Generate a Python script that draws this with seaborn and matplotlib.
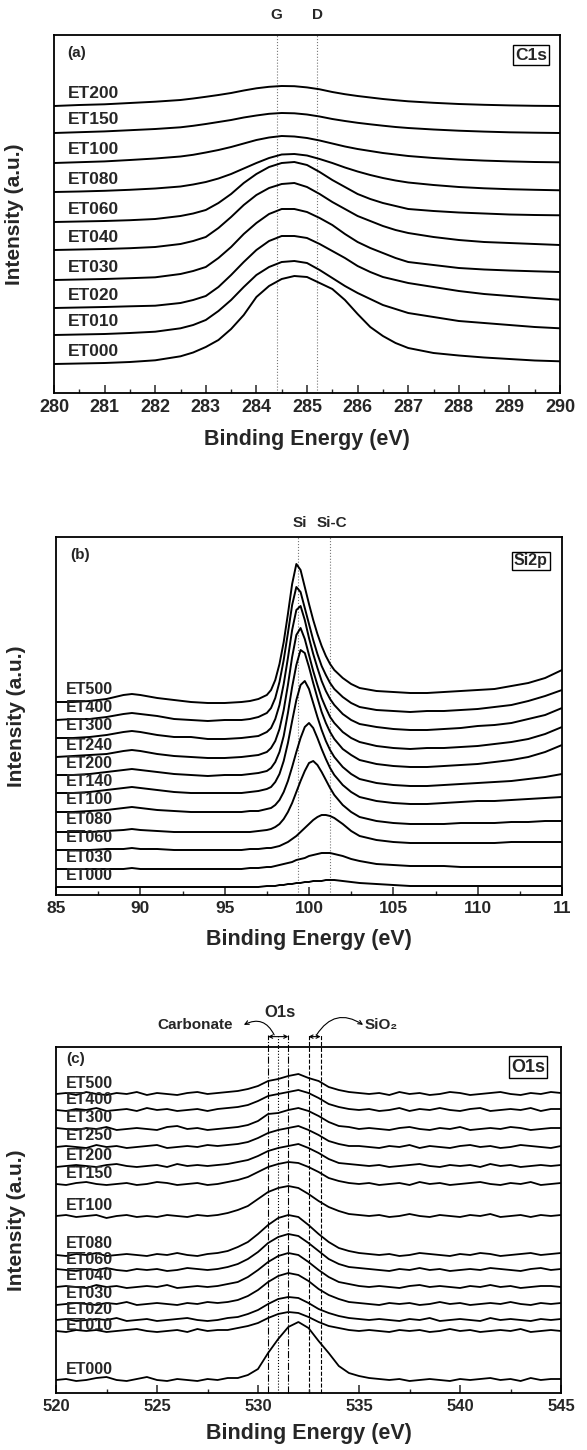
import numpy as np
import pandas as pd
import matplotlib
matplotlib.use("Agg")
import matplotlib.pyplot as plt
import seaborn as sns
from matplotlib import font_manager as fm
from matplotlib.ticker import MultipleLocator, FixedLocator, FixedFormatter
from matplotlib.transforms import blended_transform_factory

# ---------------- Panel (a): C1s ----------------
c1s_energy = [280, 280.5, 281, 281.5, 282, 282.5, 282.75, 283, 283.25, 283.5, 283.75, 284, 284.25,
              284.5, 284.75, 285, 285.25, 285.5, 285.75, 286, 286.25, 286.5, 286.75, 287, 287.5,
              288, 288.5, 289, 289.5, 290]
c1s_names = ["ET000", "ET010", "ET020", "ET030", "ET040", "ET060", "ET080", "ET100", "ET150", "ET200"]
c1s_offsets = [29, 58, 85, 113, 143, 171, 201, 230, 260, 287]
c1s_ET000 = [0, 0.5, 1, 2, 3.7, 7.7, 11.5, 17, 24, 35, 49, 67, 78, 85, 88, 87, 81, 75, 64, 50, 37, 28, 21, 16, 11, 8.5, 6.5, 5, 3.5, 2.7]
c1s_ET010 = [0, 0.5, 1, 2, 3.3, 6.7, 10, 15, 24, 35, 48, 60, 68, 73, 74, 72, 65, 57, 49, 42, 36, 30, 26, 22, 18, 14, 12, 10, 8, 6.7]
c1s_ET020 = [0, 0.5, 1, 1.7, 2.3, 5, 8, 12, 21, 33, 46, 58, 67, 72, 72, 70, 64, 57, 50, 42, 36, 31, 28, 25, 21, 17, 14, 12, 10, 8.3]
c1s_ET030 = [0, 0.5, 1, 1.8, 2.7, 6, 9, 13, 22, 33, 46, 57, 66, 71, 71, 68, 62, 55, 46, 38, 32, 27, 22, 18, 15, 12, 10.5, 9.5, 8.7, 8]
c1s_ET040 = [0, 0.5, 1, 1.8, 3, 6, 9, 13, 22, 33, 45, 55, 62, 66, 67, 63, 56, 48, 41, 34, 29, 24, 20, 17, 13, 10, 8, 7, 6, 5]
c1s_ET060 = [0, 0.5, 1, 1.8, 3, 6, 8.5, 12, 19, 28, 39, 48, 55, 59, 60, 57, 50, 42, 35, 28, 23, 19, 16, 13, 11, 9.5, 8.5, 7.5, 7, 6.7]
c1s_ET080 = [0, 0.5, 1.2, 2.2, 3.5, 5.5, 7.5, 10, 13.5, 18, 23.5, 29, 34, 37.5, 38, 36.5, 33, 29, 24.5, 20.5, 17, 14, 11.5, 9.5, 7, 5, 3.7, 2.8, 2.2, 1.7]
c1s_ET100 = [0, 0.8, 1.6, 3, 4.5, 6.5, 8.2, 10.5, 13, 16, 19.5, 23, 25.5, 27, 26.5, 25, 22.5, 19.5, 16.5, 14, 12, 10, 8.5, 7, 5, 3.5, 2.4, 1.6, 1, 0.7]
c1s_ET150 = [0, 0.8, 1.6, 2.8, 4, 5.7, 7.2, 9, 11, 13, 15.5, 17.5, 19.2, 20, 19.7, 18.5, 16.5, 14, 12, 10.2, 8.7, 7.3, 6, 5, 3.5, 2.3, 1.4, 0.7, 0.3, 0]
c1s_ET200 = [0, 1, 1.7, 3, 4.3, 6, 7.5, 9.2, 11, 13, 15.5, 17.7, 19.2, 20, 19.8, 18.6, 16.7, 14, 11.8, 10, 8.5, 7, 5.8, 4.7, 3.2, 2, 1.2, 0.6, 0.2, 0]
c1s_series = [c1s_ET000, c1s_ET010, c1s_ET020, c1s_ET030, c1s_ET040, c1s_ET060, c1s_ET080, c1s_ET100, c1s_ET150, c1s_ET200]
c1s_ticks = [280, 281, 282, 283, 284, 285, 286, 287, 288, 289, 290]
c1s_ticklabels = ["280", "281", "282", "283", "284", "285", "286", "287", "288", "289", "290"]
c1s_markers = [284.4, 285.2]
c1s_marker_labels = ["G", "D"]

# ---------------- Panel (b): Si2p ----------------
si_energy = [85, 86, 87, 88, 89, 89.5, 90, 91, 92, 93, 94, 95, 96, 96.5, 97, 97.5, 97.75, 98, 98.25, 98.5,
             98.75, 99, 99.25, 99.5, 99.75, 100, 100.25, 100.5, 100.75, 101, 101.25, 101.5, 102, 102.5,
             103, 104, 105, 106, 107, 108, 109, 110, 111, 112, 113, 114, 115]
si_names = ["ET000", "ET030", "ET060", "ET080", "ET100", "ET140", "ET200", "ET240", "ET300", "ET400", "ET500"]
si_offsets = [8, 26, 45, 63, 83, 102, 120, 138, 157, 175, 193]
si_ET500 = [0, 0, 1, 3, 7, 8, 7, 4, 2, 0, -1, -1, 0, 1, 3, 7, 12, 22, 38, 60, 88, 118, 138, 132, 115, 98, 82, 68, 56, 46, 38, 32, 24, 18, 14, 11, 10, 9, 9, 10, 11, 12, 13, 16, 19, 24, 32]
si_ET400 = [0, 1, 1, 3, 6, 7, 6, 4, 1, 0, -1, 0, 0, 1, 3, 7, 12, 22, 38, 60, 87, 115, 133, 128, 112, 96, 80, 66, 54, 45, 37, 31, 23, 17, 13, 10, 9, 8, 9, 9, 10, 11, 13, 15, 19, 24, 30]
si_ET300 = [0, 0, 1, 3, 6, 7, 6, 3, 1, 1, -1, -1, 0, 1, 2, 6, 10, 19, 33, 54, 80, 108, 128, 132, 118, 100, 84, 70, 57, 47, 39, 33, 24, 18, 14, 11, 9, 8, 8, 9, 10, 12, 13, 15, 19, 23, 30]
si_ET240 = [0, 1, 2, 3, 6, 7, 6, 3, 1, 0, -1, -1, 0, 1, 2, 5, 9, 16, 28, 47, 72, 100, 122, 129, 118, 102, 86, 72, 59, 49, 40, 34, 25, 19, 15, 11, 9, 8, 9, 9, 10, 11, 13, 15, 18, 23, 30]
si_ET200 = [0, 0, 1, 3, 5, 6, 5, 3, 1, 0, -1, 0, 0, 1, 2, 4, 7, 13, 23, 39, 62, 88, 110, 125, 122, 108, 92, 77, 63, 52, 43, 36, 26, 20, 15, 11, 9, 8, 8, 9, 10, 11, 13, 15, 18, 23, 30]
si_ET140 = [0, 0, 1, 3, 5, 6, 5, 3, 1, 0, 0, 0, 0, 1, 2, 4, 6, 11, 19, 32, 50, 72, 93, 108, 112, 104, 90, 76, 63, 52, 43, 36, 26, 19, 14, 10, 8, 7, 7, 8, 9, 10, 11, 12, 14, 16, 19]
si_ET100 = [0, 0, 1, 2, 4, 5, 4, 2, 1, 0, 0, 0, 0, 1, 1, 3, 4, 7, 12, 20, 31, 45, 60, 74, 85, 89, 84, 74, 63, 53, 44, 37, 27, 20, 15, 11, 9, 8, 8, 9, 10, 11, 11, 12, 13, 14, 15]
si_ET080 = [0, 0, 0, 1, 2, 3, 2, 1, 0, 0, 0, 0, 0, 0, 1, 2, 3, 5, 8, 13, 20, 29, 40, 51, 61, 69, 71, 67, 60, 52, 44, 37, 27, 20, 15, 11, 9, 8, 8, 8, 9, 9, 9, 10, 10, 11, 11]
si_ET060 = [0, 0, 0, 1, 1, 2, 1, 1, 0, 0, 0, 0, 0, 1, 1, 2, 2, 3, 4, 6, 8, 11, 14, 18, 22, 26, 30, 33, 35, 35, 34, 32, 26, 19, 14, 10, 8, 7, 7, 7, 7, 7, 7, 8, 8, 8, 8]
si_ET030 = [0, 0, 0, 0, 0, 1, 0, 0, 0, 0, 0, 0, 0, 1, 1, 2, 2, 3, 4, 5, 6, 7, 9, 10, 11, 13, 14, 15, 16, 16, 16, 15, 13, 10, 8, 5, 4, 3, 3, 3, 2, 2, 2, 2, 2, 2, 2]
si_ET000 = [0, 0, 0, 0, 0, 0, 0, 0, 0, 0, 0, 0, 0, 0, 0, 1, 1, 1, 2, 2, 3, 3, 4, 4, 5, 5, 6, 6, 6, 7, 7, 7, 6, 5, 4, 3, 2, 1, 1, 1, 1, 1, 1, 1, 1, 1, 1]
si_series = [si_ET000, si_ET030, si_ET060, si_ET080, si_ET100, si_ET140, si_ET200, si_ET240, si_ET300, si_ET400, si_ET500]
si_ticks = [85, 90, 95, 100, 105, 110, 115]
si_ticklabels = ["85", "90", "95", "100", "105", "110", "11"]
si_markers = [99.35, 101.25]
si_marker_labels = ["Si", "Si-C"]

# ---------------- Panel (c): O1s ----------------
o_energy = [520 + 0.5 * i for i in range(51)]
o_names = ["ET000", "ET010", "ET020", "ET030", "ET040", "ET060", "ET080", "ET100", "ET150", "ET200",
           "ET250", "ET300", "ET400", "ET500"]
o_offsets = [13, 62, 73, 89, 106, 123, 138, 177, 209, 227, 246, 264, 283, 299]
o_ET500 = [0, 1, -1, 2, 0, -1, 1, 0, 2, -1, 1, 0, -1, 1, 2, 0, 1, 2, 3,
           5, 8, 13, 15, 18, 20, 16, 13, 7, 4, 2, 1,
           0, 1, -1, 2, 0, 1, -1, 0, 2, 1, -1, 0, 1, 2, 0, -1, 1, 0, 2, 1]
o_ET400 = [0, -1, 1, 0, 2, -1, 0, 1, -1, 2, 0, 1, -1, 0, 1, -1, 1, 2, 3,
           5, 9, 14, 16, 18, 20, 17, 12, 6, 3, 1, 0,
           1, -1, 0, 2, -1, 1, 0, 2, 0, -1, 1, 2, -1, 0, 1, 0, 2, -1, 1, 1]
o_ET300 = [1, 0, -1, 1, 0, 2, -1, 0, 1, 0, -1, 2, 3, 0, 1, -1, 0, 1, 2,
           4, 8, 15, 16, 19, 21, 18, 13, 7, 3, 2, 0,
           1, 0, -1, 1, 2, 0, -1, 1, 0, 2, -1, 0, 1, 0, 2, 1, -1, 0, 1, 1]
o_ET250 = [0, 1, 0, -1, 2, 0, 1, -1, 0, 1, 2, -1, 0, 1, 0, 2, 1, 2, 3,
           5, 9, 14, 17, 19, 21, 17, 12, 6, 3, 1, 1,
           0, -1, 1, 0, 2, -1, 1, 0, -1, 1, 2, 0, 1, -1, 0, 2, 1, 0, -1, 1]
o_ET200 = [-1, 0, 1, 0, -1, 1, 2, 0, -1, 0, 1, -1, 2, 0, 1, 0, 1, 2, 4,
           6, 10, 15, 18, 20, 22, 18, 13, 7, 3, 2, 1,
           0, 1, -1, 0, 1, 2, 0, -1, 1, 0, 1, -1, 2, 0, 1, -1, 0, 1, 0, 1]
o_ET150 = [0, -1, 1, 2, 0, -1, 0, 1, -1, 0, 2, 1, -1, 0, 1, -1, 0, 2, 4,
           7, 12, 17, 20, 22, 21, 17, 12, 6, 3, 1, 0,
           1, -1, 0, 1, -1, 2, 0, 1, -1, 0, 1, 2, 0, -1, 1, 0, 2, -1, 0, 1]
o_ET100 = [0, 1, -1, 0, 1, -2, 0, 1, -1, 0, -1, 1, 0, -1, 1, 0, 1, 3, 6,
           10, 17, 24, 28, 30, 28, 22, 15, 9, 5, 2, 1,
           0, 1, -1, 0, 2, 0, -1, 1, 0, -1, 1, 0, 2, -1, 0, 1, -1, 1, 0, 1]
o_ET080 = [0, -1, 1, 0, 2, -1, 0, 1, 0, -1, 1, 0, 2, 0, -1, 1, 2, 4, 8,
           13, 21, 30, 37, 40, 38, 30, 21, 13, 7, 4, 2,
           1, 0, 1, -1, 0, 2, 1, 0, -1, 1, 0, 2, 1, -1, 0, 1, 2, 0, 1, 2]
o_ET060 = [1, 0, -1, 1, 0, 2, 0, -1, 1, 0, 1, -1, 0, 2, 1, 0, 1, 3, 6,
           11, 18, 27, 33, 36, 34, 27, 19, 11, 6, 3, 2,
           1, 0, -1, 1, 0, 2, 0, 1, -1, 0, 1, 0, 2, 1, 0, -1, 1, 2, 0, 1]
o_ET040 = [0, 1, 0, -1, 2, 0, 1, -1, 0, 1, 0, 2, -1, 0, 1, 0, 1, 3, 5,
           10, 17, 25, 31, 34, 32, 25, 17, 10, 5, 3, 1,
           0, 1, 0, -1, 1, 2, 0, 1, 0, -1, 1, 0, 2, 0, 1, -1, 0, 1, 1, 0]
o_ET030 = [-1, 0, 1, 0, -1, 1, 0, 2, -1, 0, 1, 0, -1, 1, 0, 2, 1, 2, 4,
           8, 14, 22, 28, 31, 29, 23, 15, 9, 5, 2, 1,
           0, -1, 1, 0, 1, -1, 0, 2, 0, 1, -1, 0, 1, 0, 2, 0, -1, 1, 0, 1]
o_ET020 = [0, 1, -1, 0, 1, 0, 2, -1, 0, 1, -1, 0, 1, 2, 0, -1, 0, 2, 3,
           6, 10, 16, 21, 23, 22, 17, 11, 7, 4, 2, 1,
           0, 1, 0, -1, 1, 0, 2, -1, 0, 1, 0, -1, 2, 0, 1, 0, -1, 1, 0, 1]
o_ET010 = [0, -1, 1, 0, 1, -1, 0, 1, 2, 0, -1, 0, 1, -1, 2, 0, 1, 1, 3,
           5, 8, 13, 17, 19, 18, 14, 9, 5, 3, 1, 0,
           1, 0, -1, 1, 0, 1, -1, 0, 2, 0, 1, -1, 0, 1, 0, 2, -1, 0, 1, 0]
o_ET000 = [0, 1, -1, 0, 2, 3, 0, -1, 1, 3, 0, -1, 1, 0, -1, 1, 0, 2, 2,
           5, 11, 27, 41, 53, 58, 52, 39, 27, 14, 7, 4,
           2, 1, 0, 1, -1, 0, 1, 0, -1, 1, 0, 1, 2, 0, 1, -1, 2, 0, 1, 1]
o_series = [o_ET000, o_ET010, o_ET020, o_ET030, o_ET040, o_ET060, o_ET080, o_ET100, o_ET150, o_ET200,
            o_ET250, o_ET300, o_ET400, o_ET500]
o_ticks = [520, 525, 530, 535, 540, 545]
o_ticklabels = ["520", "525", "530", "535", "540", "545"]
o_lines = [530.5, 531.0, 531.5, 532.5, 533.1]
o_line_styles = ["-.", ":", "-.", "--", "--"]

# ---------------- Style ----------------
sns.set_theme(style="ticks")
names = {f.name for f in fm.fontManager.ttflist}
MAIN = "Liberation Sans" if "Liberation Sans" in names else "DejaVu Sans"
plt.rcParams["font.family"] = [MAIN, "DejaVu Sans"]
plt.rcParams["font.weight"] = "bold"
plt.rcParams["axes.linewidth"] = 1.3

fig = plt.figure(figsize=(5.87, 14.5), dpi=100)
W, H = 587.0, 1450.0


def make_ax(left, right, top, bottom):
    return fig.add_axes([left / W, 1 - bottom / H, (right - left) / W, (bottom - top) / H])


def draw(ax, energy, names_, offsets, series, lw=1.4):
    rows = []
    for n, off, s in zip(names_, offsets, series):
        for e, v in zip(energy, s):
            rows.append((n, e, off + v))
    df = pd.DataFrame(rows, columns=["sample", "energy", "intensity"])
    sns.lineplot(data=df, x="energy", y="intensity", units="sample", estimator=None,
                 color="black", lw=lw, ax=ax, legend=False, sort=False)


def style_axes(ax, xlim, ylim, ticks, ticklabels, minor, tick_fs, labelpad):
    ax.set_xlim(*xlim)
    ax.set_ylim(*ylim)
    ax.set_yticks([])
    ax.xaxis.set_major_locator(FixedLocator(ticks))
    ax.xaxis.set_major_formatter(FixedFormatter(ticklabels))
    ax.xaxis.set_minor_locator(MultipleLocator(minor))
    ax.tick_params(axis="x", which="major", direction="in", length=6, width=1.1,
                   labelsize=tick_fs, pad=4)
    ax.tick_params(axis="x", which="minor", direction="in", length=3, width=1.0)
    for lab in ax.get_xticklabels():
        lab.set_fontweight("bold")
    ax.set_xlabel("Binding Energy (eV)", fontsize=15.5, fontweight="bold", labelpad=labelpad)
    ax.set_ylabel("Intensity (a.u.)", fontsize=15, fontweight="bold")
    ax.yaxis.set_label_coords(-0.06, 0.5)
    for sp in ax.spines.values():
        sp.set_visible(True)
        sp.set_linewidth(1.3)
        sp.set_color("black")


# ---- (a)
axa = make_ax(54, 560, 35, 393)
for xv in c1s_markers:
    axa.axvline(xv, color="#777777", lw=0.8, ls=":", zorder=0)
draw(axa, c1s_energy, c1s_names, c1s_offsets, c1s_series)
style_axes(axa, (280, 290), (0, 358), c1s_ticks, c1s_ticklabels, 0.5, 13, 10)
for n, off in zip(c1s_names, c1s_offsets):
    axa.text(280.28, off + 13, n, fontsize=12.5, fontweight="bold", ha="left", va="center")
ta = blended_transform_factory(axa.transData, axa.transAxes)
for xv, lab in zip(c1s_markers, c1s_marker_labels):
    axa.text(xv, 1.056, lab, transform=ta, ha="center", va="center", fontsize=11, fontweight="bold")
axa.text(0.027, 0.95, "(a)", transform=axa.transAxes, fontsize=11, fontweight="bold", va="center")
axa.text(0.975, 0.944, "C1s", transform=axa.transAxes, fontsize=12.5, fontweight="bold",
         ha="right", va="center",
         bbox=dict(boxstyle="square,pad=0.12", fc="white", ec="black", lw=1))

# ---- (b)
axb = make_ax(56, 562, 537, 895)
for xv in si_markers:
    axb.axvline(xv, color="#777777", lw=0.8, ls=":", zorder=0)
draw(axb, si_energy, si_names, si_offsets, si_series)
style_axes(axb, (85, 115), (0, 358), si_ticks, si_ticklabels, 2.5, 12.5, 10)
for n, off in zip(si_names, si_offsets):
    axb.text(85.6, off + 12, n, fontsize=11.5, fontweight="bold", ha="left", va="center")
tb = blended_transform_factory(axb.transData, axb.transAxes)
axb.text(99.45, 1.039, "Si", transform=tb, ha="center", va="center", fontsize=11, fontweight="bold")
axb.text(101.35, 1.039, "Si-C", transform=tb, ha="center", va="center", fontsize=11, fontweight="bold")
axb.text(0.028, 0.95, "(b)", transform=axb.transAxes, fontsize=11, fontweight="bold", va="center")
axb.text(0.972, 0.933, "Si2p", transform=axb.transAxes, fontsize=11.5, fontweight="bold",
         ha="right", va="center",
         bbox=dict(boxstyle="square,pad=0.12", fc="white", ec="black", lw=1))

# ---- (c)
axc = make_ax(56, 561, 1047, 1393)
tc = blended_transform_factory(axc.transData, axc.transAxes)
for xv, ls in zip(o_lines, o_line_styles):
    axc.plot([xv, xv], [0, 1.035], transform=tc, color="black", lw=0.8, ls=ls, clip_on=False, zorder=0)
draw(axc, o_energy, o_names, o_offsets, o_series, lw=1.3)
style_axes(axc, (520, 545), (0, 346), o_ticks, o_ticklabels, 2.5, 12, 7)
label_nudge = {"ET010": -5, "ET020": -1}
for n, off in zip(o_names, o_offsets):
    axc.text(520.5, off + 11 + label_nudge.get(n, 0), n, fontsize=11.5, fontweight="bold",
             ha="left", va="center")
axc.text(0.02, 0.965, "(c)", transform=axc.transAxes, fontsize=11, fontweight="bold", va="center")
axc.text(0.968, 0.942, "O1s", transform=axc.transAxes, fontsize=13, fontweight="bold",
         ha="right", va="center",
         bbox=dict(boxstyle="square,pad=0.12", fc="white", ec="black", lw=1))
axc.text(531.1, 1.101, "O1s", transform=tc, ha="center", va="center", fontsize=12, fontweight="bold")
axc.text(526.9, 1.064, "Carbonate", transform=tc, ha="center", va="center", fontsize=11, fontweight="bold")
axc.text(535.3, 1.064, "SiO₂", transform=tc, ha="left", va="center", fontsize=11, fontweight="bold")
axc.annotate("", xy=(530.5, 1.03), xytext=(531.5, 1.03), xycoords=tc, textcoords=tc,
             arrowprops=dict(arrowstyle="<->", lw=0.8, color="black", mutation_scale=6,
                             shrinkA=0, shrinkB=0), annotation_clip=False)
axc.annotate("", xy=(532.5, 1.03), xytext=(533.1, 1.03), xycoords=tc, textcoords=tc,
             arrowprops=dict(arrowstyle="<->", lw=0.8, color="black", mutation_scale=6,
                             shrinkA=0, shrinkB=0), annotation_clip=False)
axc.annotate("", xy=(529.3, 1.064), xytext=(530.8, 1.035), xycoords=tc, textcoords=tc,
             arrowprops=dict(arrowstyle="->", lw=0.8, color="black", mutation_scale=7,
                             connectionstyle="arc3,rad=0.5", shrinkA=0, shrinkB=0),
             annotation_clip=False)
axc.annotate("", xy=(535.2, 1.064), xytext=(532.9, 1.035), xycoords=tc, textcoords=tc,
             arrowprops=dict(arrowstyle="->", lw=0.8, color="black", mutation_scale=7,
                             connectionstyle="arc3,rad=-0.5", shrinkA=0, shrinkB=0),
             annotation_clip=False)

fig.savefig("out.png", dpi=100, facecolor="white")
